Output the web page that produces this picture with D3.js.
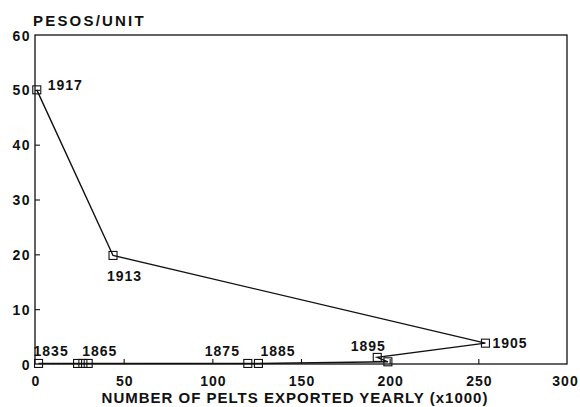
<!DOCTYPE html>
<html><head><meta charset="utf-8">
<script src="https://cdn.jsdelivr.net/npm/d3@7"></script>
<style>
body{margin:0;background:#fff;}
text{font-family:"Liberation Sans",Arial,sans-serif;font-weight:bold;fill:#111;}
</style></head>
<body><svg id="c" width="580" height="407"></svg>
<script>
const years   = [1835, 1845, 1855, 1865, 1875, 1885, 1890, 1895, 1905, 1913, 1917];
const pelts   = [2, 24, 27, 30, 120, 126, 199, 193, 254, 44, 1];
const pesos   = [0.1, 0.1, 0.1, 0.1, 0.1, 0.1, 0.4, 1.2, 3.8, 19.8, 50];
const labels  = ["1835", "", "", "1865", "1875", "1885", "", "1895", "1905", "1913", "1917"];
const xTicks  = [0, 50, 100, 150, 200, 250, 300];
const yTicks  = [0, 10, 20, 30, 40, 50, 60];

const svg = d3.select("#c");
const L = 35, R = 567, T = 35, B = 364;
const x = d3.scaleLinear().domain([0, 300]).range([L, R]);
const y = d3.scaleLinear().domain([0, 60]).range([B, T]);

// frame
svg.append("rect").attr("x", L).attr("y", T).attr("width", R - L).attr("height", B - T)
  .attr("fill", "none").attr("stroke", "#111").attr("stroke-width", 1.3);

// axes with inward ticks
const xAxis = d3.axisBottom(x).tickValues(xTicks).tickSize(-5).tickPadding(12);
const gx = svg.append("g").attr("transform", `translate(0,${B})`).call(xAxis);
gx.select(".domain").remove();
gx.selectAll(".tick line").attr("stroke", "#111").attr("stroke-width", 1.1)
  .filter(d => d === 0 || d === 300).remove();
gx.selectAll(".tick text").style("font-size", "14px").style("letter-spacing", "1px")
  .attr("fill", "#111").attr("font-family", null).attr("dy", "0.72em")
  .attr("dx", d => d === 300 ? "-2px" : "0.5px");

const yAxis = d3.axisLeft(y).tickValues(yTicks).tickSize(-5).tickPadding(4);
const gy = svg.append("g").attr("transform", `translate(${L},0)`).call(yAxis);
gy.select(".domain").remove();
gy.selectAll(".tick line").attr("stroke", "#111").attr("stroke-width", 1.1)
  .filter(d => d === 0 || d === 60).remove();
gy.selectAll(".tick text").style("font-size", "14px").style("letter-spacing", "1.5px")
  .attr("fill", "#111").attr("font-family", null).attr("dy", "0.36em");

// titles
svg.append("text").attr("x", 33).attr("y", 26).style("font-size", "15px")
  .style("letter-spacing", "2.2px").text("PESOS/UNIT");
svg.append("text").attr("x", 295).attr("y", 403).attr("text-anchor", "middle")
  .style("font-size", "15px").style("letter-spacing", "1px")
  .text("NUMBER OF PELTS EXPORTED YEARLY (x1000)");

const data = years.map((yr, i) => ({yr, px: pelts[i], py: pesos[i], lab: labels[i]}));

// line
svg.append("path").datum(data)
  .attr("d", d3.line().x(d => x(d.px)).y(d => y(d.py)))
  .attr("fill", "none").attr("stroke", "#111").attr("stroke-width", 1.4);

// markers
const s = 8;
svg.selectAll("rect.m").data(data).join("rect").attr("class", "m")
  .attr("x", d => x(d.px) - s / 2).attr("y", d => y(d.py) - s / 2)
  .attr("width", s).attr("height", s).attr("fill", "none")
  .attr("stroke", "#111").attr("stroke-width", 1.1);

// labels
const pos = {
  "1835": [-5, -7, "start"], "1865": [-6, -7, "start"], "1875": [-43, -7, "start"],
  "1885": [2, -7, "start"], "1895": [-9, -6, "middle"], "1905": [7, 5, "start"],
  "1913": [-6, 26, "start"], "1917": [11, 0, "start"]
};
svg.selectAll("text.lab").data(data.filter(d => d.lab)).join("text").attr("class", "lab")
  .attr("x", d => x(d.px) + pos[d.lab][0]).attr("y", d => y(d.py) + pos[d.lab][1])
  .attr("text-anchor", d => pos[d.lab][2])
  .style("font-size", "14px").style("letter-spacing", "1px").text(d => d.lab);
</script></body></html>
